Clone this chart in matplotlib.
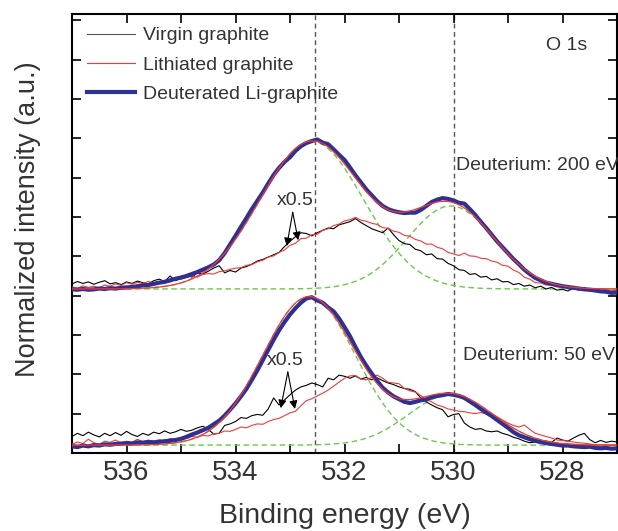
import numpy as np
import matplotlib
matplotlib.use("Agg")
import matplotlib.pyplot as plt
from matplotlib.ticker import MultipleLocator

plt.rcParams['font.family'] = ['Liberation Sans', 'DejaVu Sans']

# binding energy grid of the measured spectra (0.1 eV steps, 537 -> 527 eV)
energy = np.linspace(537.0, 527.0, 101)

# O 1s, deuterium 200 eV (offset spectra, upper set)
deut_200 = [4.16, 4.15, 4.17, 4.15, 4.16, 4.18, 4.17, 4.19, 4.18, 4.20,
            4.21, 4.22, 4.24, 4.26, 4.27, 4.30, 4.33, 4.35, 4.39, 4.43,
            4.46, 4.50, 4.55, 4.60, 4.66, 4.72, 4.79, 4.90, 5.08, 5.30,
            5.52, 5.75, 5.97, 6.20, 6.41, 6.62, 6.85, 7.07, 7.25, 7.40,
            7.52, 7.68, 7.80, 7.88, 7.93, 7.97, 7.89, 7.85, 7.72, 7.58,
            7.45, 7.26, 7.06, 6.88, 6.70, 6.55, 6.40, 6.28, 6.20, 6.15,
            6.12, 6.10, 6.11, 6.11, 6.18, 6.28, 6.38, 6.44, 6.48, 6.46,
            6.42, 6.36, 6.34, 6.20, 6.05, 5.88, 5.72, 5.55, 5.38, 5.23,
            5.08, 4.93, 4.80, 4.66, 4.55, 4.45, 4.39, 4.33, 4.30, 4.27,
            4.24, 4.22, 4.20, 4.18, 4.16, 4.15, 4.13, 4.11, 4.10, 4.07,
            4.08]
virgin_200 = [4.30, 4.36, 4.31, 4.35, 4.29, 4.34, 4.38, 4.30, 4.33, 4.28,
              4.35, 4.31, 4.37, 4.33, 4.30, 4.38, 4.42, 4.36, 4.50, 4.38,
              4.45, 4.52, 4.47, 4.58, 4.55, 4.62, 4.70, 4.76, 4.58, 4.64,
              4.60, 4.70, 4.74, 4.80, 4.88, 4.92, 4.98, 5.04, 5.10, 5.25,
              5.38, 5.50, 5.60, 5.58, 5.52, 5.60, 5.66, 5.72, 5.70, 5.80,
              5.84, 5.88, 5.96, 5.86, 5.78, 5.70, 5.65, 5.60, 5.72, 5.55,
              5.40, 5.32, 5.30, 5.18, 5.14, 5.04, 5.06, 4.94, 4.93, 4.82,
              4.76, 4.66, 4.64, 4.54, 4.56, 4.47, 4.49, 4.40, 4.43, 4.35,
              4.36, 4.28, 4.31, 4.24, 4.27, 4.20, 4.24, 4.17, 4.21, 4.14,
              4.16, 4.12, 4.19, 4.14, 4.21, 4.12, 4.16, 4.10, 4.14, 4.09,
              4.11]
lith_200 = [4.22, 4.19, 4.25, 4.21, 4.24, 4.20, 4.27, 4.24, 4.30, 4.26,
            4.33, 4.29, 4.34, 4.31, 4.36, 4.32, 4.35, 4.39, 4.35, 4.41,
            4.42, 4.46, 4.50, 4.47, 4.54, 4.56, 4.55, 4.61, 4.63, 4.67,
            4.70, 4.71, 4.77, 4.79, 4.86, 4.90, 4.98, 5.01, 5.10, 5.16,
            5.28, 5.33, 5.45, 5.46, 5.55, 5.56, 5.66, 5.70, 5.78, 5.82,
            5.90, 5.93, 5.99, 5.92, 5.89, 5.84, 5.81, 5.73, 5.71, 5.64,
            5.61, 5.53, 5.51, 5.43, 5.39, 5.31, 5.31, 5.23, 5.19, 5.10,
            5.06, 5.02, 5.08, 5.01, 5.00, 4.95, 4.94, 4.88, 4.85, 4.77,
            4.75, 4.65, 4.59, 4.47, 4.42, 4.33, 4.32, 4.27, 4.27, 4.22,
            4.23, 4.19, 4.19, 4.16, 4.18, 4.14, 4.15, 4.13, 4.15, 4.12,
            4.14]

# O 1s, deuterium 50 eV (lower set)
deut_50 = [0.17, 0.15, 0.19, 0.17, 0.20, 0.19, 0.22, 0.21, 0.23, 0.24,
           0.25, 0.24, 0.27, 0.26, 0.28, 0.27, 0.28, 0.30, 0.31, 0.33,
           0.36, 0.41, 0.47, 0.52, 0.58, 0.64, 0.73, 0.82, 0.95, 1.10,
           1.26, 1.44, 1.63, 1.86, 2.10, 2.36, 2.62, 2.88, 3.12, 3.33,
           3.52, 3.68, 3.82, 3.93, 3.96, 3.88, 3.82, 3.70, 3.60, 3.42,
           3.20, 2.97, 2.70, 2.44, 2.22, 2.02, 1.83, 1.66, 1.54, 1.44,
           1.37, 1.30, 1.27, 1.30, 1.34, 1.36, 1.42, 1.45, 1.47, 1.50,
           1.48, 1.45, 1.40, 1.31, 1.22, 1.12, 1.03, 0.94, 0.84, 0.74,
           0.64, 0.53, 0.45, 0.40, 0.35, 0.31, 0.28, 0.25, 0.23, 0.21,
           0.19, 0.19, 0.17, 0.16, 0.15, 0.16, 0.13, 0.12, 0.13, 0.11,
           0.12]
virgin_50 = [0.42, 0.50, 0.44, 0.53, 0.46, 0.41, 0.50, 0.44, 0.52, 0.45,
             0.55, 0.47, 0.42, 0.50, 0.45, 0.53, 0.49, 0.56, 0.50, 0.54,
             0.60, 0.55, 0.58, 0.64, 0.68, 0.60, 0.48, 0.50, 0.70, 0.74,
             0.80, 0.90, 0.88, 0.95, 0.98, 0.96, 1.12, 1.40, 1.22, 1.35,
             1.48, 1.60, 1.68, 1.72, 1.78, 1.74, 1.68, 1.90, 1.86, 1.98,
             1.95, 1.90, 1.96, 1.88, 1.92, 1.86, 1.91, 1.84, 1.78, 1.74,
             1.68, 1.64, 1.62, 1.56, 1.40, 1.30, 1.22, 1.15, 1.10, 0.92,
             0.98, 1.00, 0.76, 0.66, 0.60, 0.62, 0.56, 0.54, 0.56, 0.50,
             0.46, 0.40, 0.36, 0.30, 0.26, 0.28, 0.25, 0.30, 0.27, 0.38,
             0.33, 0.30, 0.38, 0.45, 0.50, 0.34, 0.26, 0.32, 0.27, 0.30,
             0.28]
lith_50 = [0.22, 0.28, 0.24, 0.35, 0.26, 0.22, 0.30, 0.27, 0.33, 0.25,
           0.30, 0.27, 0.35, 0.29, 0.33, 0.30, 0.34, 0.31, 0.37, 0.35,
           0.39, 0.37, 0.42, 0.40, 0.45, 0.43, 0.49, 0.50, 0.56, 0.55,
           0.60, 0.66, 0.64, 0.70, 0.74, 0.73, 0.80, 0.85, 0.88, 0.95,
           1.02, 1.06, 1.20, 1.33, 1.38, 1.45, 1.52, 1.60, 1.70, 1.80,
           1.90, 1.96, 1.97, 1.88, 1.86, 1.92, 1.98, 1.90, 1.80, 1.78,
           1.76, 1.64, 1.58, 1.55, 1.46, 1.36, 1.30, 1.22, 1.18, 1.12,
           1.09, 1.06, 1.05, 1.02, 1.00, 1.03, 0.99, 1.00, 0.92, 0.84,
           0.76, 0.70, 0.66, 0.71, 0.60, 0.50, 0.46, 0.42, 0.38, 0.33,
           0.32, 0.30, 0.28, 0.26, 0.25, 0.23, 0.21, 0.20, 0.21, 0.20,
           0.20]

# Gaussian components of the deuterated fits: centre, sigma, height (eV, eV, a.u.)
fit_200_base = 4.17
fit_200_centres = [532.6, 530.05]
fit_200_sigmas = [0.95, 0.80]
fit_200_heights = [3.75, 2.11]
fit_50_base = 0.20
fit_50_centres = [532.65, 530.05]
fit_50_sigmas = [0.85, 0.78]
fit_50_heights = [3.77, 1.28]

ref_lines = [532.55, 530.0]

BLUE = '#2e3192'
RED = '#f03a3a'
GREEN = '#6cc84a'
TXT = '#333333'

fig = plt.figure(figsize=(6.18, 5.31), dpi=100)
ax = fig.add_axes([72/618, 78/531, 545/618, 439/531])

efine = np.linspace(537.0, 527.0, 500)


def components(base, centres, sigmas, heights):
    return [base + h*np.exp(-(efine - c)**2/(2*s**2))
            for c, s, h in zip(centres, sigmas, heights)]


for base, cen, sig, hgt, deut, virg, lith in [
        (fit_200_base, fit_200_centres, fit_200_sigmas, fit_200_heights,
         deut_200, virgin_200, lith_200),
        (fit_50_base, fit_50_centres, fit_50_sigmas, fit_50_heights,
         deut_50, virgin_50, lith_50)]:
    comps = components(base, cen, sig, hgt)
    for c in comps:
        ax.plot(efine, c, color=GREEN, lw=1.0, dashes=(4, 2.5), zorder=2)
    ax.plot(energy, virg, color='black', lw=0.8, zorder=3)
    ax.plot(energy, lith, color=RED, lw=0.8, zorder=3)
    ax.plot(energy, deut, color=BLUE, lw=3.0, zorder=4)
    envelope = comps[0] + comps[1] - base
    ax.plot(efine, envelope, color=RED, lw=0.9, zorder=5)

for e in ref_lines:
    ax.axvline(e, color='#555555', lw=1.0, dashes=(3.5, 2.5), zorder=1)

# legend entries
h1, = ax.plot([], [], color='#555555', lw=0.8)
h2, = ax.plot([], [], color=RED, lw=0.8)
h3, = ax.plot([], [], color=BLUE, lw=3.0)
leg = ax.legend([h1, h2, h3],
                ['Virgin graphite', 'Lithiated graphite', 'Deuterated Li-graphite'],
                loc='upper left', bbox_to_anchor=(0.027, 0.971), frameon=False,
                fontsize=14, handlelength=2.5, handletextpad=0.42,
                labelspacing=0.6, borderpad=0, borderaxespad=0)
for t in leg.get_texts():
    t.set_color(TXT)

ax.text(0.908, 0.929, 'O 1s', transform=ax.transAxes, fontsize=14,
        color=TXT, ha='center', va='center')
ax.text(529.95, 7.32, 'Deuterium: 200 eV', fontsize=14, color=TXT,
        ha='left', va='center')
ax.text(529.83, 2.47, 'Deuterium: 50 eV', fontsize=14, color=TXT,
        ha='left', va='center')

# "x0.5" markers with two arrows each
for tx, ty, apex, heads in [
        (532.9, 6.43, (532.95, 6.12), [(533.06, 5.26), (532.85, 5.41)]),
        (533.08, 2.34, (533.04, 2.06), [(533.17, 1.14), (532.91, 1.12)])]:
    ax.text(tx, ty, 'x0.5', fontsize=14, color=TXT, ha='center', va='center')
    for hx, hy in heads:
        ax.annotate('', xy=(hx, hy), xytext=apex,
                    arrowprops=dict(arrowstyle='-|>', color='black', lw=0.8,
                                    mutation_scale=12, shrinkA=0, shrinkB=0))

ax.set_xlim(537, 527)
ax.set_ylim(0, 11.16)
ax.xaxis.set_major_locator(MultipleLocator(2))
ax.xaxis.set_minor_locator(MultipleLocator(1))
ax.yaxis.set_major_locator(MultipleLocator(1))
ax.set_yticklabels([])
ax.tick_params(which='both', direction='in', top=True, right=True,
               length=6.5, width=1.2, colors='black', labelcolor=TXT,
               labelsize=20, pad=5)
for s in ax.spines.values():
    s.set_linewidth(1.5)

ax.set_xlabel('Binding energy (eV)', fontsize=20.5, color=TXT, labelpad=12)
ax.set_ylabel('Normalized intensity (a.u.)', fontsize=19.5, color=TXT)
ax.yaxis.set_label_coords(-0.056, 0.533)

fig.savefig('out.png', dpi=100)
